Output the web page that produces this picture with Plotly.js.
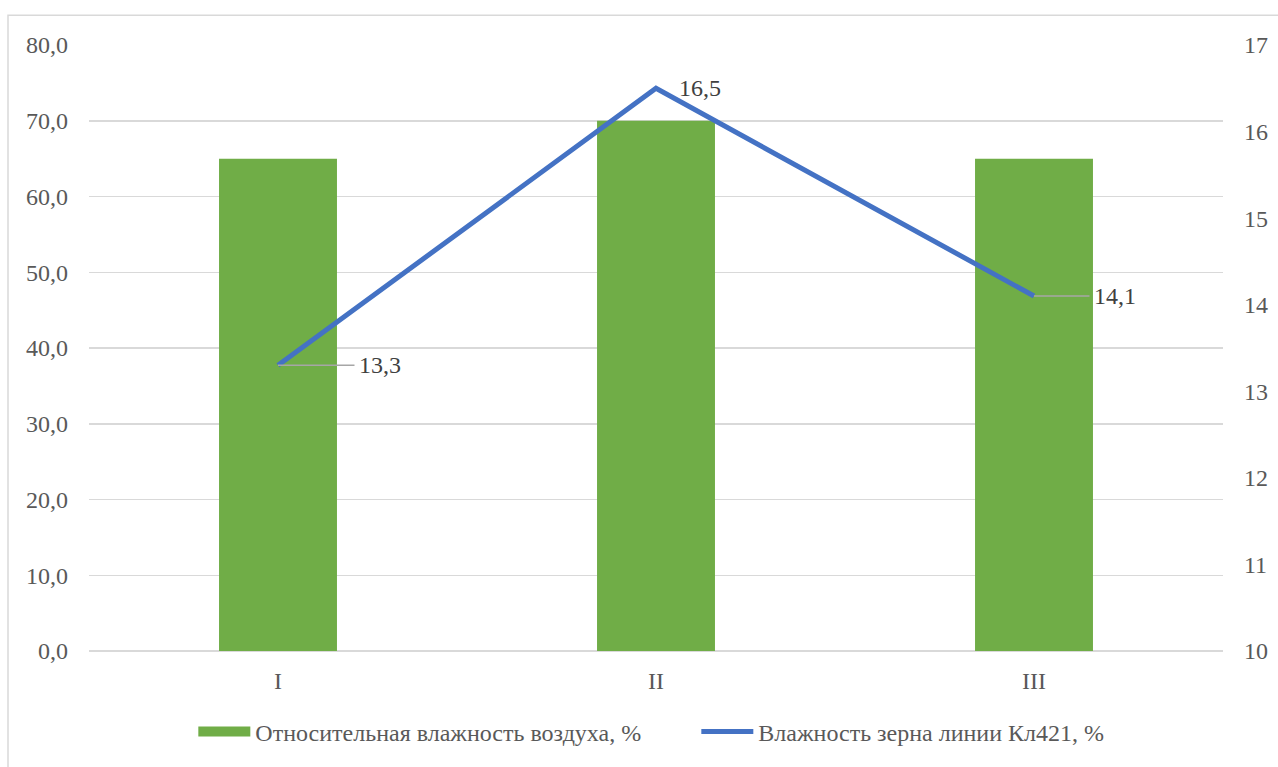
<!DOCTYPE html>
<html>
<head>
<meta charset="utf-8">
<script src="https://cdn.plot.ly/plotly-3.0.1.min.js"></script>
<style>
  html, body { margin: 0; padding: 0; background: #ffffff; }
  #chart { width: 1278px; height: 767px; }
</style>
</head>
<body>
<div id="chart"></div>
<script>
// Categories (periods) and the two measured series
const categories = ['I', 'II', 'III'];
const airHumidity = [65, 70, 65];          // Относительная влажность воздуха, %
const grainMoisture = [13.3, 16.5, 14.1];  // Влажность зерна линии Кл421, %
const grainLabels = grainMoisture.map(v => v.toFixed(1).replace('.', ','));

const barName = 'Относительная влажность воздуха, %';
const lineName = 'Влажность зерна линии Кл421, %';

const FONT = 'Liberation Serif';
const FS = 24;
const W = 1278, H = 767;
const M = { l: 89, r: 55, t: 45, b: 110 };
const plotW = W - M.l - M.r, plotH = H - M.t - M.b;

const traces = [
  {
    type: 'bar',
    name: barName,
    x: categories,
    y: airHumidity,
    marker: { color: '#70AD47' },
    yaxis: 'y',
    showlegend: false,
    hoverinfo: 'skip'
  },
  // legend entry for the bars, drawn as a wide green swatch
  {
    type: 'scatter',
    mode: 'lines',
    name: barName,
    x: [null],
    y: [null],
    line: { color: '#70AD47', width: 10 },
    yaxis: 'y',
    hoverinfo: 'skip'
  },
  {
    type: 'scatter',
    mode: 'lines',
    name: lineName,
    x: categories,
    y: grainMoisture,
    line: { color: '#4472C4', width: 5 },
    yaxis: 'y2',
    hoverinfo: 'skip'
  }
];

// Data label placement for each line point: offset in px and whether a leader line is drawn
const labelStyle = [
  { ax: 102, leader: true },
  { ax: 44, leader: false },
  { ax: 81, leader: true }
];

const annotations = grainMoisture.map((v, i) => {
  const s = labelStyle[i];
  const a = {
    x: categories[i], y: v, xref: 'x', yref: 'y2',
    text: grainLabels[i],
    font: { family: FONT, size: FS, color: '#404040' }
  };
  if (s.leader) {
    Object.assign(a, {
      showarrow: true, arrowhead: 0, arrowwidth: 1.5, arrowcolor: '#A6A6A6',
      ax: s.ax, ay: 0, standoff: 0, borderpad: 4
    });
  } else {
    Object.assign(a, { showarrow: false, xanchor: 'center', xshift: s.ax });
  }
  return a;
});

const layout = {
  width: W, height: H,
  margin: M,
  paper_bgcolor: '#ffffff',
  plot_bgcolor: '#ffffff',
  separators: ', ',
  font: { family: FONT, size: FS, color: '#595959' },
  bargap: 0.688,
  showlegend: true,
  legend: {
    orientation: 'h',
    x: 0.092, xanchor: 'left',
    y: -0.0965, yanchor: 'top',
    bgcolor: 'rgba(0,0,0,0)',
    font: { family: FONT, size: FS, color: '#595959' },
    traceorder: 'normal',
    itemwidth: 52,
    entrywidth: 436,
    entrywidthmode: 'pixels'
  },
  xaxis: {
    type: 'category',
    showgrid: false,
    zeroline: false,
    showline: false,
    ticks: '',
    ticklabelstandoff: 13,
    tickfont: { family: FONT, size: FS, color: '#595959' }
  },
  yaxis: {
    range: [0, 80],
    dtick: 10,
    tick0: 0,
    tickformat: '.1f',
    showgrid: true,
    gridcolor: '#D9D9D9',
    gridwidth: 1.5,
    zeroline: true,
    zerolinecolor: '#D9D9D9',
    zerolinewidth: 1.5,
    showline: false,
    ticks: '',
    ticklabelstandoff: 20,
    tickfont: { family: FONT, size: FS, color: '#595959' }
  },
  yaxis2: {
    overlaying: 'y',
    side: 'right',
    range: [10, 17],
    dtick: 1,
    tick0: 10,
    tickformat: 'd',
    showgrid: false,
    zeroline: false,
    showline: false,
    ticks: '',
    ticklabelstandoff: 20,
    tickfont: { family: FONT, size: FS, color: '#595959' }
  },
  annotations: annotations,
  shapes: [
    {
      type: 'rect', xref: 'paper', yref: 'paper', layer: 'below',
      x0: (8 - M.l) / plotW, x1: (W + 20 - M.l) / plotW,
      y0: -(H + 20 - plotH - M.t) / plotH, y1: (plotH + M.t - 15) / plotH,
      line: { color: '#D9D9D9', width: 1.5 },
      fillcolor: 'rgba(0,0,0,0)'
    }
  ]
};

Plotly.newPlot('chart', traces, layout, { staticPlot: true, displayModeBar: false });
</script>
</body>
</html>
